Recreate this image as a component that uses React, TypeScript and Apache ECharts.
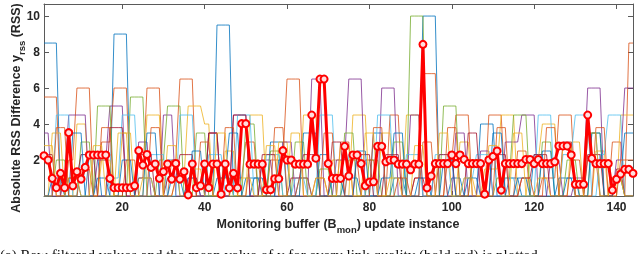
import React, { useEffect, useRef } from 'react';
import * as echarts from 'echarts';

const X_TICKS = [20, 40, 60, 80, 100, 120, 140];
const Y_TICKS = [2, 4, 6, 8, 10];

// mean absolute RSS difference (bold red), instances 1..144
const meanRss = [
  2.24, 2.0, 0.98, 0.46, 1.26, 0.46, 3.52, 0.57, 1.35, 0.94,
  1.59, 2.28, 2.28, 2.28, 2.28, 2.28, 0.98, 0.46, 0.46, 0.46,
  0.46, 0.46, 0.57, 2.52, 1.72, 2.31, 1.59, 1.78, 0.98, 1.35,
  1.78, 0.94, 1.81, 0.94, 1.35, 0.06, 1.78, 0.46, 0.57, 1.78,
  0.46, 1.78, 1.78, 0.1, 1.78, 0.45, 1.26, 0.45, 4.02, 4.02,
  1.77, 1.77, 1.77, 1.77, 0.35, 0.35, 0.96, 0.96, 2.52, 2.0,
  2.0, 1.77, 1.77, 1.77, 1.77, 4.5, 2.1, 6.5, 6.5, 1.8,
  0.98, 0.98, 0.98, 2.76, 1.11, 2.28, 2.28, 1.8, 0.57, 0.77,
  0.79, 2.76, 2.76, 1.9, 2.0, 2.0, 1.77, 1.77, 1.77, 1.46,
  1.77, 1.77, 8.43, 0.45, 1.11, 1.8, 1.8, 1.8, 1.8, 2.28,
  1.8, 2.28, 2.03, 1.8, 1.8, 1.8, 1.8, 0.1, 2.0, 2.2,
  2.5, 0.33, 1.8, 1.8, 1.8, 1.8, 1.8, 2.03, 2.03, 1.8,
  2.03, 1.8, 1.8, 1.8, 1.9, 2.78, 2.78, 2.78, 2.28, 0.65,
  0.65, 0.65, 4.5, 2.09, 1.8, 1.8, 1.8, 1.8, 0.33, 0.93,
  1.22, 1.48, 1.48, 1.26,
];

// individual link traces, run-length lists of [value, number of instances]
const linkBlue1 = [[8.5,4],[0,2],[1,3],[0,2],[2.3,3],[0,3],[9,4],[0,2],[1,4],[0,3],[2,3],[0,2],[1,3],[0,4],[9.5,4],[0,3],[1,4],[0,2],[3,4],[0,3],[1,3],[0,2],[2.3,3],[0,3],[1,4],[0,3],[3.5,3],[0,2],[1,3],[0,4],[10,4],[0,3],[1,3],[0,4],[4,4],[0,3],[1,3],[0,3],[2.3,3],[0,3],[1,4],[0,3],[3.5,3],[0,3],[1,3],[0,3]];
const linkOrange1 = [[5.5,4],[0,2],[2,2],[6,4],[0,2],[3,3],[6,4],[0,2],[1,2],[6,4],[0,2],[2,2],[6.5,4],[0,3],[3.5,3],[0,3],[1,3],[3,3],[0,3],[2,4],[6.5,4],[0,3],[1,3],[0,3],[3,3],[0,3],[2,3],[0,3],[4.5,3],[0,3],[1,2],[6.8,4],[0,2],[2,2],[4.5,4],[0,4],[4.5,4],[0,3],[2.5,3],[0,3],[1,4],[4.5,4],[0,3],[2,3],[0,3],[3,3],[0,1],[8.5,2]];
const linkYellow1 = [[0,2],[3.5,3],[0,3],[4,3],[0,3],[2,3],[0,2],[3.5,3],[0,3],[4.5,4],[0,3],[1,3],[5,4],[4,2],[0,3],[2.5,3],[0,3],[4.5,4],[0,3],[3,3],[0,3],[4.5,4],[0,3],[2,3],[0,2],[4.5,4],[0,3],[3.5,3],[0,3],[4.5,4],[0,3],[2,3],[0,3],[3,3],[0,3],[1.5,4],[4.5,4],[0,3],[2,3],[4,4],[0,3],[3,3],[0,3],[2.5,3],[0,3],[4.5,4]];
const linkPurple1 = [[3.5,2],[0,3],[1,1],[4.5,5],[0,2],[2,3],[5,4],[0,3],[3,3],[0,3],[4.5,3],[0,3],[1,3],[0,2],[3.5,3],[0,3],[4.5,4],[0,3],[2,3],[0,2],[3,3],[0,4],[6.5,3],[0,3],[2,3],[6.5,4],[0,4],[6,4],[0,3],[4.5,3],[0,3],[2,3],[0,2],[3.5,3],[0,3],[2.5,3],[0,3],[3,4],[4.5,4],[0,3],[2,3],[0,3],[1,3],[6,4],[0,3],[2,2],[6,3]];
const linkGreen1 = [[0,3],[2,3],[0,3],[3,3],[0,1],[5,4],[0,4],[5.5,4],[0,3],[2,2],[5,4],[0,3],[3.5,3],[0,3],[1,3],[0,3],[4,3],[0,3],[2.5,3],[0,3],[3,3],[0,3],[1.5,3],[0,3],[3.5,3],[0,3],[2,3],[0,3],[3,3],[0,1],[10,4],[0,4],[5,4],[0,3],[2,3],[0,3],[1,4],[4.5,4],[0,3],[3,3],[0,3],[2,3],[0,3],[3.5,3],[0,3],[1,2],[0,3]];
const linkCyan1 = [[0,3],[4.5,4],[0,2],[2.3,4],[0,3],[1,3],[4.5,4],[0,3],[2.3,4],[0,3],[4.5,4],[0,3],[2.3,4],[0,3],[4.5,4],[0,3],[2.3,4],[0,3],[1,3],[0,3],[4.5,4],[0,3],[2.3,4],[0,3],[4.5,4],[0,3],[2.3,4],[0,3],[2.3,4],[0,3],[1,3],[2.3,4],[0,3],[1,3],[0,5],[4.5,4],[0,2],[2.3,3],[4.5,4],[0,2],[2.3,2],[4.5,4],[0,3]];
const linkMaroon1 = [[2.3,3],[0,3],[1,3],[2.3,4],[0,3],[3.8,4],[0,3],[2.3,4],[0,3],[1,3],[2.3,4],[0,3],[3.5,3],[0,3],[4.5,4],[0,3],[2.3,4],[0,3],[1,3],[2.3,4],[0,3],[3,3],[0,3],[2.3,4],[0,3],[2.3,4],[0,3],[1,3],[0,3],[2.3,4],[0,3],[3.5,3],[0,3],[2.3,4],[0,3],[1,3],[2.3,4],[0,3],[3,3],[0,3],[2.3,4],[0,3],[1.5,2],[0,3]];
const linkBlue2 = [[0,2],[1,3],[0,2],[3.5,3],[0,3],[1,3],[0,3],[2,3],[0,3],[3.5,3],[0,3],[1,3],[0,2],[2.5,3],[0,3],[1,3],[3.5,3],[0,3],[1,3],[0,3],[2,3],[0,3],[3.5,4],[0,3],[1,3],[0,3],[2.5,3],[0,3],[1,3],[3.5,3],[0,3],[1,3],[0,3],[2,3],[0,3],[1,3],[0,3],[3.5,3],[0,3],[1,3],[0,3],[2.5,3],[0,3],[1,3],[0,3],[3.5,3],[0,3],[1,2],[3.5,3]];
const linkOrange2 = [[0,3],[3.8,3],[0,3],[1.5,3],[0,2],[3.8,3],[0,3],[2,3],[0,3],[3.8,3],[0,3],[1,3],[0,3],[3,3],[0,3],[3.8,3],[0,3],[2,3],[0,3],[3.8,3],[0,3],[1,3],[0,3],[3.5,3],[0,3],[2,3],[0,3],[3.8,3],[0,3],[1,3],[0,3],[3,3],[0,3],[3.8,3],[0,3],[2,3],[0,3],[3.8,3],[0,3],[1,3],[0,3],[3.8,3],[0,3],[2,3],[0,3],[3.8,3],[0,3],[2,4]];
const linkYellow2 = [[2.8,3],[0,3],[1,3],[0,3],[2.8,3],[0,3],[3.5,3],[0,3],[1,3],[0,3],[2.8,3],[0,3],[1.5,3],[0,3],[3.5,3],[0,3],[1,3],[0,3],[2.8,3],[0,3],[3.5,3],[0,3],[1,3],[0,3],[2.8,3],[0,3],[3.5,3],[0,3],[1,3],[0,3],[2.8,3],[0,3],[3.5,3],[0,3],[1,3],[0,3],[2.8,3],[0,3],[3.5,3],[0,3],[1,3],[0,3],[2.8,3],[0,3],[3.5,3],[0,3],[1,3],[0,3]];

const expand = (runs: number[][]) => {
  const out: number[] = [];
  runs.forEach(([v, n]) => {
    for (let k = 0; k < n; k++) out.push(v);
  });
  return out;
};

const FONT = '"Liberation Sans", Arial, Helvetica, sans-serif';
const AXIS_COLOR = '#5a5a5a';
const TEXT_COLOR = '#262626';

export default function App() {
  const ref = useRef<HTMLDivElement>(null);

  useEffect(() => {
    if (!ref.current) return;
    const chart = echarts.init(ref.current, undefined, { renderer: 'svg' });

    const links = [
      { runs: linkBlue1, color: '#0072BD' },
      { runs: linkOrange1, color: '#D95319' },
      { runs: linkYellow1, color: '#EDB120' },
      { runs: linkPurple1, color: '#7E2F8E' },
      { runs: linkGreen1, color: '#77AC30' },
      { runs: linkCyan1, color: '#4DBEEE' },
      { runs: linkMaroon1, color: '#A2142F' },
      { runs: linkBlue2, color: '#0072BD' },
      { runs: linkOrange2, color: '#D95319' },
      { runs: linkYellow2, color: '#EDB120' },
    ];

    const bgSeries = links.map((l) => ({
      type: 'line',
      data: expand(l.runs).map((v, i) => [i + 1, v]),
      symbol: 'none',
      showSymbol: false,
      silent: true,
      lineStyle: { color: l.color, width: 1, opacity: 0.8 },
      itemStyle: { color: l.color },
      z: 2,
    }));

    const baseX = {
      type: 'value',
      min: 1,
      max: 144,
      splitLine: { show: false },
      axisLine: { show: true, onZero: false, lineStyle: { color: AXIS_COLOR, width: 1 } },
      axisTick: { show: true, inside: true, length: 5, customValues: X_TICKS, lineStyle: { color: AXIS_COLOR } },
    };
    const baseY = {
      type: 'value',
      min: 0,
      max: 10.67,
      splitLine: { show: false },
      axisLine: { show: true, onZero: false, lineStyle: { color: AXIS_COLOR, width: 1 } },
      axisTick: { show: true, inside: true, length: 5, customValues: Y_TICKS, lineStyle: { color: AXIS_COLOR } },
    };

    chart.setOption({
      animation: false,
      grid: { left: 44, right: 7, top: 4, bottom: 58, containLabel: false },
      xAxis: [
        {
          ...baseX,
          position: 'bottom',
          axisLabel: {
            customValues: X_TICKS,
            color: TEXT_COLOR,
            fontSize: 12,
            fontWeight: 'bold',
            fontFamily: FONT,
            margin: 5,
          },
        },
        { ...baseX, position: 'top', axisLabel: { show: false } },
      ],
      yAxis: [
        {
          ...baseY,
          position: 'left',
          axisLabel: {
            customValues: Y_TICKS,
            color: TEXT_COLOR,
            fontSize: 12,
            fontWeight: 'bold',
            fontFamily: FONT,
            margin: 4,
          },
        },
        { ...baseY, position: 'right', axisLabel: { show: false } },
      ],
      series: [
        ...bgSeries,
        {
          type: 'line',
          data: meanRss.map((v, i) => [i + 1, v]),
          symbol: 'circle',
          symbolSize: 7,
          showAllSymbol: true,
          lineStyle: { color: '#FF0000', width: 3 },
          itemStyle: { color: '#ffdede', borderColor: '#FF0000', borderWidth: 2 },
          z: 5,
        },
      ],
      graphic: [
        {
          type: 'text',
          x: 338,
          y: 224,
          style: {
            text: '{a|Monitoring buffer (B}{s|mon}{a|) update instance}',
            align: 'center',
            verticalAlign: 'middle',
            rich: {
              a: { fontSize: 12.5, fontWeight: 'bold', fontFamily: FONT, fill: TEXT_COLOR },
              s: { fontSize: 9.5, fontWeight: 'bold', fontFamily: FONT, fill: TEXT_COLOR, padding: [10, 0, 0, 0] },
            },
          },
        },
        {
          type: 'text',
          x: 16,
          y: 108,
          rotation: Math.PI / 2,
          style: {
            text: '{a|Absolute RSS Difference y}{s|rss}{a| (RSS)}',
            align: 'center',
            verticalAlign: 'middle',
            rich: {
              a: { fontSize: 12.5, fontWeight: 'bold', fontFamily: FONT, fill: TEXT_COLOR },
              s: { fontSize: 9.5, fontWeight: 'bold', fontFamily: FONT, fill: TEXT_COLOR, padding: [10, 0, 0, 0] },
            },
          },
        },
        {
          type: 'text',
          x: 0,
          y: 247,
          style: {
            text: '(a) Raw filtered values and the mean value of y for every link quality (bold red) is plotted',
            fontSize: 15,
            fontFamily: '"Liberation Serif", "Times New Roman", serif',
            fill: '#111',
            align: 'left',
            verticalAlign: 'top',
          },
        },
      ],
    });

    return () => chart.dispose();
  }, []);

  return (
    <div
      ref={ref}
      style={{ position: 'fixed', left: 0, top: 0, width: 640, height: 254 }}
    />
  );
}
